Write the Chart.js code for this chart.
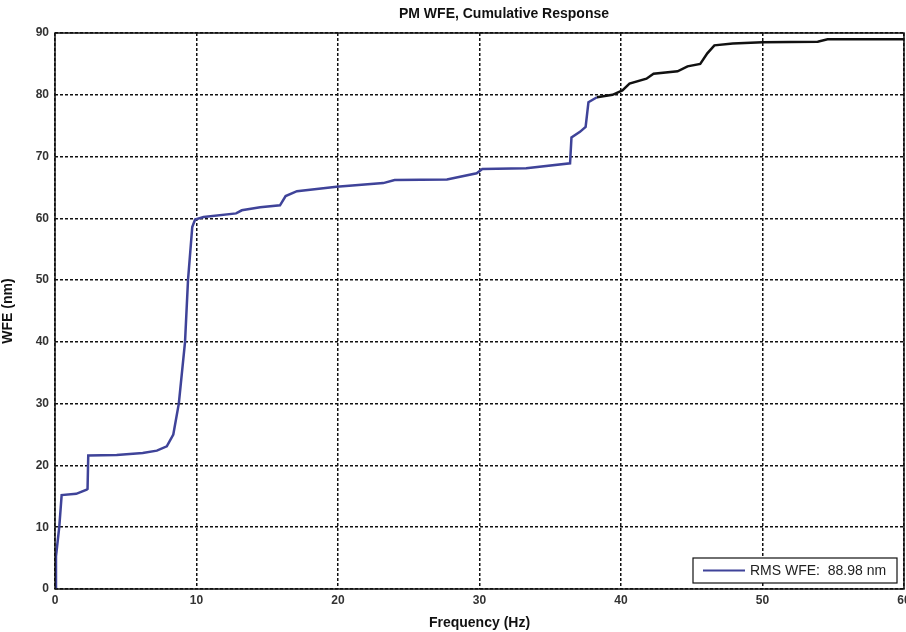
<!DOCTYPE html>
<html>
<head>
<meta charset="utf-8">
<script src="https://cdn.jsdelivr.net/npm/chart.js@4"></script>
<style>
html,body{margin:0;padding:0;background:#fff;}
#wrap{width:906px;height:632px;position:relative;}
</style>
</head>
<body>
<div id="wrap"><canvas id="c"></canvas></div>
<script>
Chart.defaults.font.family="'Liberation Sans',Arial,sans-serif";
Chart.defaults.color='#222';

// cumulative WFE
const freqHz = [0,0.07,0.3,0.47,1.5,2.24,2.3,2.35,4.36,6.2,7.2,7.9,8.36,8.75,9.19,9.4,9.7,9.9,
  10.5,12.8,13.2,14.5,15.9,16.3,17.1,19.9,23.2,24,27.7,29.8,30.2,33.3,36.4,36.5,37.1,37.5,37.7,
  38.3,39.4,40.1,40.6,41.8,42.3,44,44.7,45.6,46.1,46.6,47.9,50,53.9,54.6,60];
const wfeNm = [0,5.3,10,15.2,15.4,16.1,16.2,21.6,21.7,22,22.4,23.1,25,30,40,50,58.6,59.8,
  60.2,60.8,61.3,61.8,62.1,63.6,64.4,65.1,65.7,66.2,66.3,67.3,68,68.1,68.9,73.1,74,74.8,78.8,
  79.6,80,80.7,81.8,82.6,83.4,83.8,84.6,85,86.7,88,88.3,88.5,88.6,89,88.98];
const blackFrom = 38.3;
const xTicks = [0,10,20,30,40,50,60];
const yTicks = [0,10,20,30,40,50,60,70,80,90];
const seriesLabel = 'RMS WFE:  88.98 nm';

const BLUE='#3f4399';

const frameAndText = {
  id:'frameAndText',
  afterDraw(chart){
    const {ctx,chartArea:a}=chart;
    ctx.save();
    ctx.strokeStyle='#111';ctx.lineWidth=1.5;ctx.setLineDash([]);
    ctx.strokeRect(a.left,a.top,a.right-a.left,a.bottom-a.top);
    // title
    ctx.fillStyle='#111';
    ctx.font="bold 14px 'Liberation Sans',Arial,sans-serif";
    ctx.textAlign='center';ctx.textBaseline='middle';
    ctx.fillText('PM WFE, Cumulative Response',504,14);
    // legend box
    const w=204,h=25,x=a.right-w-7,y=a.bottom-h-6;
    ctx.fillStyle='#fff';ctx.fillRect(x,y,w,h);
    ctx.lineWidth=1.2;ctx.strokeStyle='#111';ctx.strokeRect(x,y,w,h);
    ctx.strokeStyle=BLUE;ctx.lineWidth=2;
    ctx.beginPath();ctx.moveTo(x+10,y+h/2);ctx.lineTo(x+52,y+h/2);ctx.stroke();
    ctx.fillStyle='#222';ctx.textAlign='left';
    ctx.font="14px 'Liberation Sans',Arial,sans-serif";
    ctx.fillText(chart.data.datasets[0].label,x+57,y+h/2+1);
    ctx.restore();
  }
};

new Chart(document.getElementById('c'),{
  type:'line',
  data:{datasets:[{
    label:seriesLabel,
    data:freqHz.map((f,i)=>({x:f,y:wfeNm[i]})),
    borderColor:BLUE,
    borderWidth:2.5,
    pointRadius:0,
    tension:0,
    segment:{borderColor:c=>c.p0.parsed.x>=blackFrom?'#111':BLUE}
  }]},
  options:{
    responsive:true,maintainAspectRatio:false,animation:false,
    layout:{padding:{top:33,right:2,left:0,bottom:0}},
    plugins:{legend:{display:false},title:{display:false},tooltip:{enabled:false}},
    scales:{
      x:{
        type:'linear',min:0,max:60,
        afterBuildTicks:s=>{s.ticks=xTicks.map(v=>({value:v}));},
        afterFit:s=>{s.height=43;s.paddingLeft=0;s.paddingRight=0;},
        grid:{color:'#111',lineWidth:1.5,drawTicks:false},
        border:{display:false,dash:[3,2]},
        ticks:{padding:4,maxRotation:0,font:{size:12,weight:'bold'},color:'#333'},
        title:{display:true,text:'Frequency (Hz)',font:{size:14,weight:'bold'},color:'#111',padding:{top:2,bottom:0}}
      },
      y:{
        min:0,max:90,
        afterBuildTicks:s=>{s.ticks=yTicks.map(v=>({value:v}));},
        afterFit:s=>{s.width=55;s.paddingTop=0;s.paddingBottom=0;},
        grid:{color:'#111',lineWidth:1.5,drawTicks:false},
        border:{display:false,dash:[3,2]},
        ticks:{padding:6,font:{size:12,weight:'bold'},color:'#333'},
        title:{display:true,text:'WFE (nm)',font:{size:14,weight:'bold'},color:'#111',padding:{top:0,bottom:2}}
      }
    }
  },
  plugins:[frameAndText]
});
</script>
</body>
</html>
